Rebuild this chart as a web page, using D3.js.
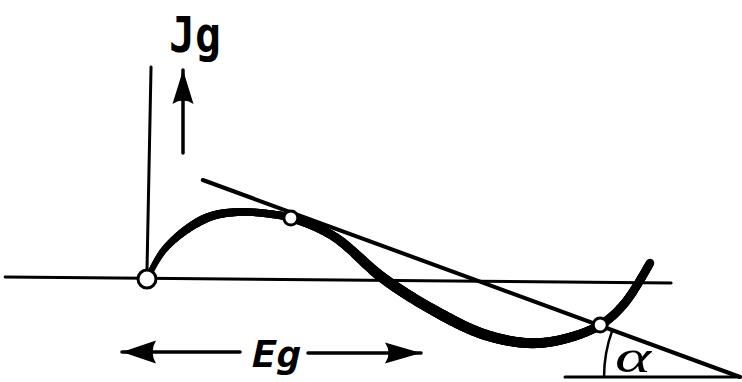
<!DOCTYPE html>
<html><head><meta charset="utf-8">
<script src="https://cdn.jsdelivr.net/npm/d3@7"></script>
<style>html,body{margin:0;padding:0;background:#fff}svg{display:block}</style>
</head><body>
<svg id="c" width="742" height="382"></svg>
<script>
// Characteristic curve Jg(Eg)
const curveEg = [0, 0.32, 0.80, 1.29, 1.85, 2.45, 2.86, 3.70, 4.69, 5.69, 6.68, 7.55, 8.21, 9.01, 9.50, 10.0];
const curveJg = [0, 1.4, 2.5, 3.15, 3.35, 3.25, 3.05, 2.15, 0.05, -1.55, -2.75, -3.2, -3.05, -2.3, -1.2, 0.8];
// marked points (indices into the curve)
const markedIdx = [0, 6, 13];
const markedR = [9, 7, 7];
// tangent line
const tangentEg = [1.11, 11.79];
const tangentJg = [4.95, -4.9];
// alpha base line
const baseEg = [8.31, 11.79];
const baseJg = [-4.9, -4.9];
// axes lines
const hAxisEg = [-2.82, 10.42];
const hAxisJg = [0.1, -0.2];
const vAxisEg = [0.08, 0];
const vAxisJg = [10.6, 0.45];
// labels
const labelJ = "Jg", labelE = "Eg", labelAlpha = "α";

const svg = d3.select("#c");
const x = d3.scaleLinear().domain([0, 10]).range([147, 650]);
const y = d3.scaleLinear().domain([0, 10]).range([279, 79]);

const seg = (ex, jy) => d3.line()(ex.map((e, i) => [x(e), y(jy[i])]));
const line = (ex, jy, w) => svg.append("path").attr("d", seg(ex, jy))
  .attr("stroke", "#000").attr("stroke-width", w).attr("fill", "none").attr("stroke-linecap", "round");

line(hAxisEg, hAxisJg, 3);
line(vAxisEg, vAxisJg, 3);
line(tangentEg, tangentJg, 4);
line(baseEg, baseJg, 3);

// curve drawn with a pen whose width varies along Eg
const pts = curveEg.map((e, i) => [x(e), y(curveJg[i])]);
const guide = svg.append("path")
  .attr("d", d3.line().curve(d3.curveCatmullRom.alpha(0.5))(pts))
  .attr("fill", "none").attr("stroke", "none");
const node = guide.node();
const L = node.getTotalLength();
const penW = d3.scaleLinear().domain([147, 200, 250, 300, 380, 450, 530, 600, 650])
  .range([5.5, 9, 7.5, 8, 10.5, 11, 10, 9, 8.5]).clamp(true);
const step = 1.5;
let prev = node.getPointAtLength(0);
for (let s = step; s <= L + step; s += step) {
  const p = node.getPointAtLength(Math.min(s, L));
  svg.append("line").attr("x1", prev.x).attr("y1", prev.y).attr("x2", p.x).attr("y2", p.y)
    .attr("stroke", "#000").attr("stroke-width", penW(p.x)).attr("stroke-linecap", "round");
  prev = p;
}

// alpha arc centred at end of tangent
const cx = x(tangentEg[1]), cy = y(tangentJg[1]);
const r = 136;
const ang = Math.atan2(y(tangentJg[0]) - cy, x(tangentEg[0]) - cx);
svg.append("path")
  .attr("d", `M${cx - r},${cy} A${r},${r} 0 0 1 ${cx + r * Math.cos(ang)},${cy + r * Math.sin(ang)}`)
  .attr("fill", "none").attr("stroke", "#000").attr("stroke-width", 2.5);

// marked circles
markedIdx.forEach((k, i) => {
  svg.append("circle").attr("cx", x(curveEg[k])).attr("cy", y(curveJg[k])).attr("r", markedR[i])
    .attr("fill", "#fff").attr("stroke", "#000").attr("stroke-width", 3);
});

// arrows
function arrow(x1, y1, x2, y2, headLen, headW) {
  svg.append("line").attr("x1", x1).attr("y1", y1).attr("x2", x2).attr("y2", y2)
    .attr("stroke", "#000").attr("stroke-width", 3.5).attr("stroke-linecap", "round");
  const a = Math.atan2(y2 - y1, x2 - x1);
  const bx = x2 - headLen * Math.cos(a), by = y2 - headLen * Math.sin(a);
  const nx = -Math.sin(a) * headW / 2, ny = Math.cos(a) * headW / 2;
  const mx = x2 - headLen * 0.8 * Math.cos(a), my = y2 - headLen * 0.8 * Math.sin(a);
  svg.append("path")
    .attr("d", `M${x2},${y2} L${bx + nx},${by + ny} Q${mx},${my} ${bx - nx},${by - ny} Z`)
    .attr("fill", "#000");
}
arrow(183, 153, 183, 70, 34, 21);
arrow(240, 352, 122, 352, 34, 23);
arrow(308, 353, 421, 353, 36, 21);

// labels
svg.append("text").attr("x", 169).attr("y", 52).text(labelJ)
  .attr("font-family", "DejaVu Sans Mono").attr("font-weight", "bold").attr("font-size", 50)
  .attr("textLength", 52).attr("lengthAdjust", "spacingAndGlyphs");
svg.append("text").attr("x", 252).attr("y", 367).text(labelE)
  .attr("font-family", "DejaVu Sans Mono").attr("font-weight", "bold").attr("font-style", "italic").attr("font-size", 37)
  .attr("textLength", 49).attr("lengthAdjust", "spacingAndGlyphs");
svg.append("text").attr("x", 615).attr("y", 372).text(labelAlpha)
  .attr("font-family", "Liberation Serif").attr("font-style", "italic").attr("font-size", 46)
  .attr("textLength", 36).attr("lengthAdjust", "spacingAndGlyphs");
</script>
</body></html>
